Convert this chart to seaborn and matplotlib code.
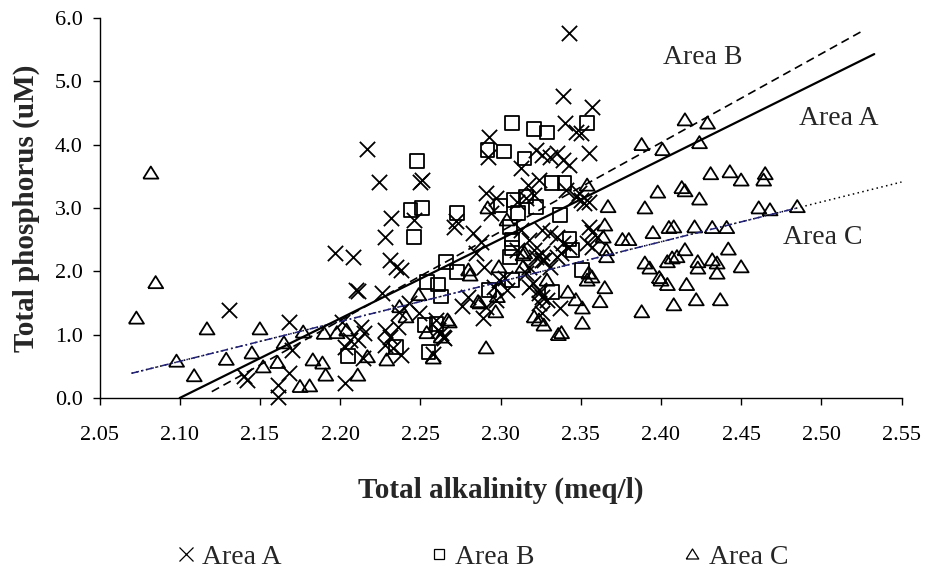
import numpy as np
import pandas as pd
import matplotlib
matplotlib.use("Agg")
import matplotlib.pyplot as plt
from matplotlib.lines import Line2D
from matplotlib.markers import MarkerStyle
import seaborn as sns

# ---------------- data ----------------
series_names = ["Area A", "Area B", "Area C"]

area_a_x = [2.131, 2.140, 2.142, 2.161, 2.161, 2.168, 2.168, 2.170, 2.197, 2.203, 2.208, 2.210,
            2.217, 2.224, 2.250, 2.251, 2.232, 2.246, 2.228, 2.231, 2.235, 2.238, 2.211, 2.226,
            2.271, 2.237, 2.249, 2.243, 2.201, 2.213, 2.215, 2.211, 2.206, 2.203, 2.228, 2.231,
            2.228, 2.236, 2.233, 2.238, 2.214, 2.265, 2.263, 2.260, 2.261, 2.264, 2.258,
            2.293, 2.292, 2.322, 2.326, 2.331, 2.335, 2.313, 2.291, 2.297, 2.294, 2.310, 2.316,
            2.321, 2.324, 2.317, 2.283, 2.288, 2.285, 2.290, 2.299, 2.304, 2.296, 2.289, 2.316,
            2.318, 2.324, 2.326, 2.357, 2.340, 2.347, 2.350, 2.355, 2.343, 2.339, 2.343, 2.339,
            2.347, 2.350, 2.352, 2.341, 2.349, 2.355, 2.326, 2.331, 2.335, 2.339, 2.343, 2.355,
            2.357, 2.360, 2.354, 2.357, 2.322, 2.326, 2.335, 2.338, 2.310, 2.318, 2.297, 2.291,
            2.329, 2.337, 2.272, 2.313, 2.318, 2.321, 2.326, 2.327, 2.331, 2.320, 2.324, 2.326,
            2.324, 2.303, 2.280, 2.276]
area_a_y = [1.39, 0.35, 0.28, 0.21, 0.02, 1.20, 0.39, 0.76, 2.29, 0.24, 2.23, 1.71,
            3.93, 3.41, 3.41, 3.44, 2.84, 2.81, 2.54, 2.18, 2.07, 2.02, 1.69, 1.66,
            2.70, 1.36, 1.34, 1.50, 1.20, 1.12, 1.03, 0.92, 0.92, 0.81, 1.07, 0.96,
            0.84, 1.12, 0.79, 0.68, 0.63, 0.95, 1.03, 1.23, 1.07, 0.96, 0.70,
            4.12, 3.81, 3.92, 3.84, 3.81, 3.87, 3.63, 3.24, 3.16, 2.92, 3.10, 3.16,
            3.21, 3.44, 3.36, 2.61, 2.46, 2.29, 2.07, 1.86, 1.71, 1.75, 1.26, 1.97,
            1.75, 1.66, 1.34, 4.60, 4.34, 4.20, 4.19, 3.87, 3.68, 3.76, 5.77, 4.77,
            3.18, 3.13, 3.08, 3.29, 3.24, 3.10, 2.65, 2.61, 2.54, 2.45, 2.39, 2.70,
            2.62, 2.54, 2.45, 2.39, 2.23, 2.18, 2.23, 2.29, 2.34, 2.07, 1.55, 1.44,
            1.55, 1.42, 2.80, 2.65, 2.50, 2.34, 2.29, 2.18, 2.07, 1.82, 1.71, 1.60,
            1.50, 1.90, 1.60, 1.45]

area_b_x = [2.248, 2.244, 2.251, 2.246, 2.273, 2.266, 2.273, 2.254, 2.261, 2.263, 2.253, 2.260,
            2.235, 2.205, 2.255, 2.307, 2.321, 2.329, 2.354, 2.292, 2.302, 2.315, 2.300, 2.308,
            2.316, 2.322, 2.311, 2.306, 2.307, 2.307, 2.306, 2.332, 2.340, 2.337, 2.343, 2.345,
            2.351, 2.307, 2.293, 2.332]
area_b_y = [3.74, 2.97, 3.00, 2.54, 2.92, 2.15, 1.99, 1.83, 1.79, 1.60, 1.15, 1.17,
            0.81, 0.66, 0.73, 4.34, 4.25, 4.19, 4.34, 3.92, 3.89, 3.78, 3.04, 3.13,
            3.18, 3.02, 2.92, 2.70, 2.50, 2.37, 2.23, 3.39, 3.39, 2.89, 2.51, 2.34,
            2.02, 1.86, 1.71, 1.67]

area_c_x = [2.073, 2.082, 2.085, 2.098, 2.109, 2.117, 2.129, 2.145, 2.150, 2.152, 2.161, 2.165,
            2.175, 2.181, 2.177, 2.183, 2.189, 2.191, 2.190, 2.198, 2.204, 2.217, 2.229, 2.211,
            2.258, 2.249, 2.237, 2.241, 2.267, 2.254, 2.263, 2.268,
            2.281, 2.280, 2.287, 2.297, 2.291, 2.292, 2.304, 2.299, 2.324, 2.327, 2.314, 2.314,
            2.286, 2.298, 2.321, 2.336, 2.338,
            2.354, 2.367, 2.365, 2.366, 2.366, 2.364, 2.355, 2.354, 2.357, 2.365, 2.362, 2.351,
            2.351, 2.342, 2.347, 2.315, 2.329,
            2.388, 2.401, 2.398, 2.390, 2.376, 2.380, 2.395, 2.390, 2.393, 2.399, 2.388, 2.415,
            2.429, 2.424, 2.431, 2.443, 2.450, 2.465, 2.464, 2.413, 2.415, 2.424, 2.461, 2.468,
            2.485, 2.405, 2.408, 2.421, 2.432, 2.441, 2.415, 2.442, 2.404, 2.407, 2.410, 2.400,
            2.404, 2.423, 2.423, 2.432, 2.435, 2.435, 2.450, 2.416, 2.422, 2.437, 2.408]
area_c_y = [1.26, 3.55, 1.82, 0.58, 0.35, 1.09, 0.61, 0.71, 1.09, 0.49, 0.56, 0.87,
            0.18, 0.19, 1.04, 0.60, 0.55, 0.36, 1.02, 1.03, 1.07, 0.65, 0.60, 0.36,
            0.63, 1.63, 1.44, 1.28, 1.23, 1.03, 0.96, 1.20,
            1.94, 2.02, 1.50, 1.36, 0.79, 3.00, 2.81, 2.07, 1.23, 1.15, 2.26, 2.07,
            1.52, 1.60, 1.28, 1.00, 1.03,
            3.36, 3.02, 2.73, 2.23, 2.34, 2.54, 1.97, 1.86, 1.91, 1.74, 1.52, 1.42,
            1.18, 1.67, 1.55, 2.29, 1.86,
            4.00, 3.92, 3.25, 3.00, 2.50, 2.50, 2.61, 2.13, 2.05, 1.90, 1.36, 4.39,
            4.34, 4.03, 3.54, 3.57, 3.44, 3.54, 3.44, 3.32, 3.27, 3.14, 3.00, 2.97,
            3.02, 2.69, 2.70, 2.70, 2.69, 2.69, 2.34, 2.35, 2.15, 2.21, 2.23, 1.86,
            1.79, 2.15, 2.05, 2.18, 2.13, 1.97, 2.07, 1.79, 1.55, 1.55, 1.47]

# trend lines (end points)
trend_a_x = [2.100, 2.533]
trend_a_y = [0.00, 5.43]
trend_b_x = [2.120, 2.526]
trend_b_y = [0.10, 5.80]
trend_c_x = [2.070, 2.550]
trend_c_y = [0.39, 3.41]
trend_c_data_end = 2.485

x_ticks = [2.05, 2.10, 2.15, 2.20, 2.25, 2.30, 2.35, 2.40, 2.45, 2.50, 2.55]
y_ticks = [0.0, 1.0, 2.0, 3.0, 4.0, 5.0, 6.0]

x_label = "Total alkalinity (meq/l)"
y_label = "Total phosphorus (uM)"

# ---------------- style ----------------
sns.set_style("ticks")
plt.rcParams["font.family"] = ["Liberation Serif", "DejaVu Serif"]

W, H = 925, 571
fig = plt.figure(figsize=(W / 100, H / 100), dpi=100)
ax = fig.add_axes([99.5 / W, 1 - 398 / H, 802 / W, 380 / H])

tri = MarkerStyle([(-1, -0.72), (1, -0.72), (0, 0.88), (-1, -0.72)])

df_a = pd.DataFrame({"x": area_a_x, "y": area_a_y})
df_b = pd.DataFrame({"x": area_b_x, "y": area_b_y})
df_c = pd.DataFrame({"x": area_c_x, "y": area_c_y})

sns.scatterplot(data=df_c, x="x", y="y", marker=tri, s=118, facecolor="none",
                edgecolor="black", linewidth=1.3, ax=ax, legend=False, clip_on=False, zorder=2)
sns.scatterplot(data=df_b, x="x", y="y", marker="s", s=96, facecolor="none",
                edgecolor="black", linewidth=1.3, ax=ax, legend=False, clip_on=False, zorder=2)
sns.scatterplot(data=df_a, x="x", y="y", marker="x", s=121, color="black",
                linewidth=1.3, ax=ax, legend=False, clip_on=False, zorder=3)

# trend lines
sns.lineplot(x=trend_c_x, y=trend_c_y, color="black", linewidth=1.1,
             linestyle=(0, (1, 2.2)), ax=ax, zorder=4)
c_end_y = float(np.interp(trend_c_data_end, trend_c_x, trend_c_y))
sns.lineplot(x=[trend_c_x[0], trend_c_data_end], y=[trend_c_y[0], c_end_y], color="#22227a",
             linewidth=1.1, linestyle=(0, (5, 2, 1, 2)), ax=ax, zorder=4)
sns.lineplot(x=trend_b_x, y=trend_b_y, color="black", linewidth=1.2,
             linestyle=(0, (5, 3)), ax=ax, zorder=5)
sns.lineplot(x=trend_a_x, y=trend_a_y, color="black", linewidth=1.6, ax=ax, zorder=6)

# line labels
ax.text(2.401, 5.37, "Area B", fontsize=20, ha="left", va="center")
ax.text(2.486, 4.42, "Area A", fontsize=20, ha="left", va="center")
ax.text(2.476, 2.53, "Area C", fontsize=20, ha="left", va="center")

# axes
ax.set_xlim(2.05, 2.55)
ax.set_ylim(0, 6)
ax.set_xticks(x_ticks)
ax.set_xticklabels([f"{v:.2f}" for v in x_ticks], fontsize=16)
ax.set_yticks(y_ticks)
ax.set_yticklabels([f"{v:.1f}" for v in y_ticks], fontsize=16)
ax.tick_params(axis="x", direction="out", length=5, width=1, pad=15, colors="black")
ax.tick_params(axis="y", direction="out", length=5, width=1, pad=7, colors="black")
for sp in ["top", "right"]:
    ax.spines[sp].set_visible(False)
for sp in ["left", "bottom"]:
    ax.spines[sp].set_color("black")
    ax.spines[sp].set_linewidth(1.0)
ax.grid(False)

ax.set_xlabel(x_label, fontsize=21, fontweight="bold", va="center")
ax.xaxis.set_label_coords(0.5, -(490 - 398) / 380)
ax.set_ylabel(y_label, fontsize=21, fontweight="bold", va="center")
ax.yaxis.set_label_coords(-(99.5 - 26) / 802, 0.5)

# legend
handles = [
    Line2D([], [], linestyle="none", marker="x", markersize=9.5, markeredgewidth=0.9, color="black"),
    Line2D([], [], linestyle="none", marker="s", markersize=7.5, markeredgewidth=0.9,
           markerfacecolor="none", markeredgecolor="black"),
    Line2D([], [], linestyle="none", marker=tri, markersize=9, markeredgewidth=0.9,
           markerfacecolor="none", markeredgecolor="black"),
]
fig.legend(handles, series_names, loc="center", bbox_to_anchor=(482 / W, 1 - 557 / H),
           ncol=3, frameon=False, fontsize=20, handlelength=0.7, handletextpad=0.25,
           columnspacing=5.3, borderpad=0, borderaxespad=0)

fig.savefig("out.png", dpi=100, facecolor="white")
